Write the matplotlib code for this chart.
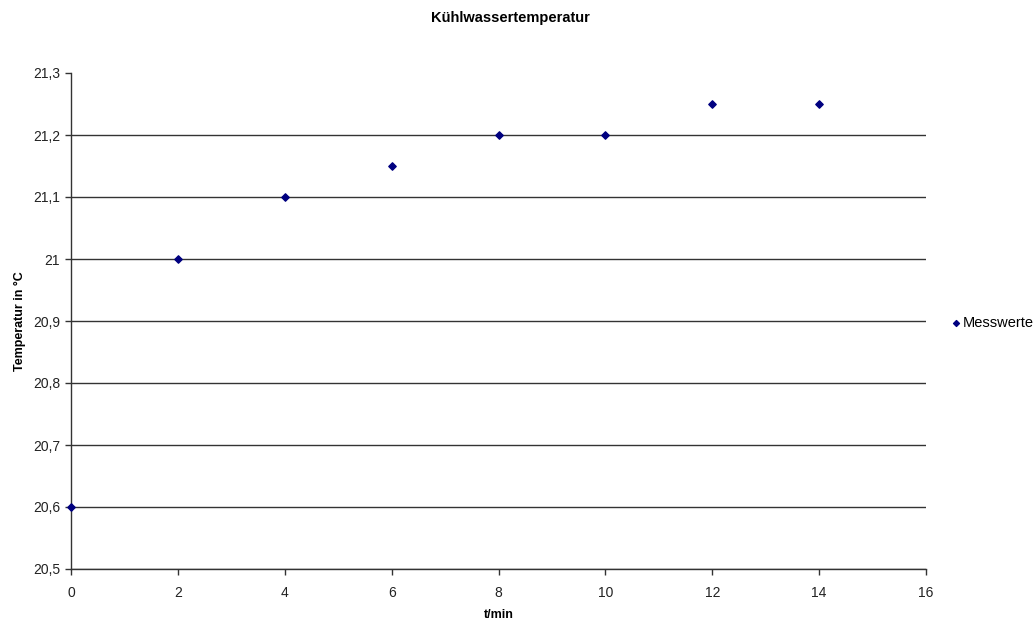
import matplotlib
matplotlib.use("Agg")
import matplotlib.pyplot as plt
from matplotlib.ticker import FuncFormatter, FixedLocator

t_min = [0, 2, 4, 6, 8, 10, 12, 14]
temp = [20.6, 21.0, 21.1, 21.15, 21.2, 21.2, 21.25, 21.25]
x_ticks = [0, 2, 4, 6, 8, 10, 12, 14, 16]
y_ticks = [20.5, 20.6, 20.7, 20.8, 20.9, 21.0, 21.1, 21.2, 21.3]

plt.rcParams['font.family'] = ['Liberation Sans', 'DejaVu Sans']

fig = plt.figure(figsize=(10.35, 6.23), dpi=100)
ax = fig.add_axes([71/1035, 1-569/623, (926-71)/1035, (569-73)/623])

ax.scatter(t_min, temp, marker='D', s=14, color='#000080', zorder=3,
           clip_on=False, label='Messwerte')

ax.set_xlim(0, 16)
ax.set_ylim(20.5, 21.3)
ax.xaxis.set_major_locator(FixedLocator(x_ticks))
ax.yaxis.set_major_locator(FixedLocator(y_ticks))

def fmt(v, pos):
    s = f"{v:.1f}"
    if s.endswith(".0"):
        s = s[:-2]
    return s.replace(".", ",")

ax.yaxis.set_major_formatter(FuncFormatter(fmt))
ax.xaxis.set_major_formatter(FuncFormatter(lambda v, p: f"{int(round(v))}"))

ax.yaxis.grid(True, color='#333333', linewidth=1.0)
ax.set_axisbelow(True)
for s in ['top', 'right']:
    ax.spines[s].set_visible(False)
for s in ['left', 'bottom']:
    ax.spines[s].set_color('#333333')
    ax.spines[s].set_linewidth(1.0)

ax.tick_params(direction='out', length=4, width=1, color='#333333',
               labelsize=10, labelcolor='#222222')
ax.tick_params(axis='x', pad=8)
ax.tick_params(axis='y', pad=4)

# hide the top gridline (at 21.3), as in the reference
for line, loc in zip(ax.get_ygridlines(), y_ticks):
    if abs(loc - 21.3) < 1e-9:
        line.set_visible(False)

ax.set_xlabel('t/min', fontsize=9, fontweight='bold', labelpad=7)
ax.set_ylabel('Temperatur in °C', fontsize=9, fontweight='bold', labelpad=5)
fig.text(510/1035, 1-18/623, 'Kühlwassertemperatur', ha='center', va='center',
         fontsize=10.5, fontweight='bold')

leg = ax.legend(loc='center left', bbox_to_anchor=(952/1035, 1-323/623),
                bbox_transform=fig.transFigure, frameon=False, fontsize=10.5,
                handlelength=0.55, handletextpad=0.2, borderaxespad=0,
                borderpad=0, markerscale=0.8)

fig.savefig('out.png', dpi=100)
